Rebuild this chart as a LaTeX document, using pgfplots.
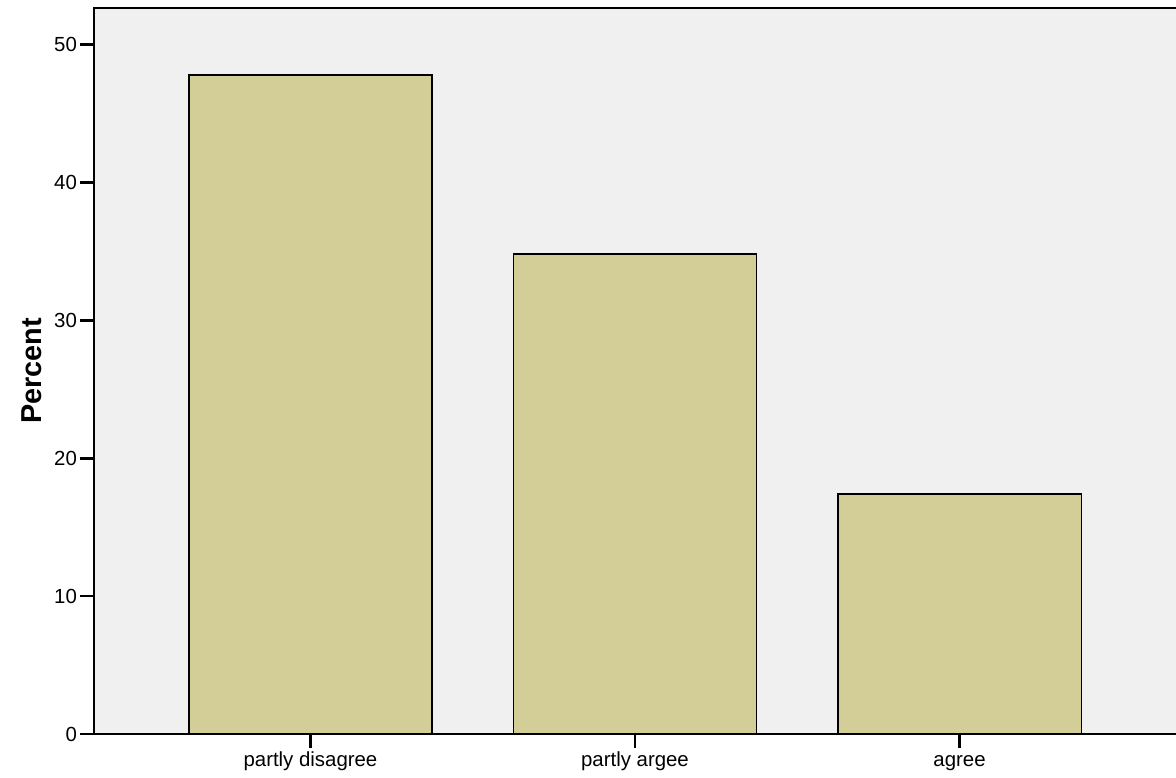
\documentclass[border=0pt]{standalone}
\usepackage{pgfplots}
\pgfplotsset{compat=1.18}
\usepackage{fontspec}
\setmainfont{Liberation Sans}
\definecolor{plotbg}{RGB}{240,240,240}
\definecolor{barfill}{RGB}{211,206,151}
\begin{document}
\begin{tikzpicture}
\begin{axis}[
  width=541pt, height=363pt,
  scale only axis,
  axis background/.style={fill=plotbg},
  axis line style={draw=none},
  xmin=-0.667, xmax=2.667,
  ymin=0, ymax=52.65,
  xtick=data,
  xticklabels={partly disagree, partly argee, agree},
  ytick={0,10,20,30,40,50},
  tick align=outside,
  major tick length=7pt,
  every major tick/.append style={black, line width=1.4pt},
  xtick pos=bottom, ytick pos=left,
  /pgf/number format/assume math mode=true,
  ticklabel style={font=\fontsize{10.2}{12}\selectfont},
  xticklabel style={yshift=2pt, text height=0.75em, text depth=0.22em},
  yticklabel style={xshift=2pt},
  ybar, bar width=0.75,
  clip=false,
]
\addplot[fill=barfill, draw=black, line width=0.75pt] coordinates {
  (0,47.8) (1,34.8) (2,17.4)
};
\draw[black, line width=1pt] (rel axis cs:1,1) -- (rel axis cs:0,1) -- (rel axis cs:0,0) -- (rel axis cs:1,0);
\coordinate (bl) at (rel axis cs:0,0);
\coordinate (tr) at (rel axis cs:1,1);
\coordinate (ylab) at (rel axis cs:0,0.5);
\end{axis}
\node[rotate=90, font=\bfseries\fontsize{14.4}{17}\selectfont] at ([xshift=-31pt]ylab) {Percent};
\pgfresetboundingbox
\useasboundingbox ([xshift=-47pt,yshift=-22pt]bl) rectangle ([yshift=4pt]tr);
\end{tikzpicture}
\end{document}
